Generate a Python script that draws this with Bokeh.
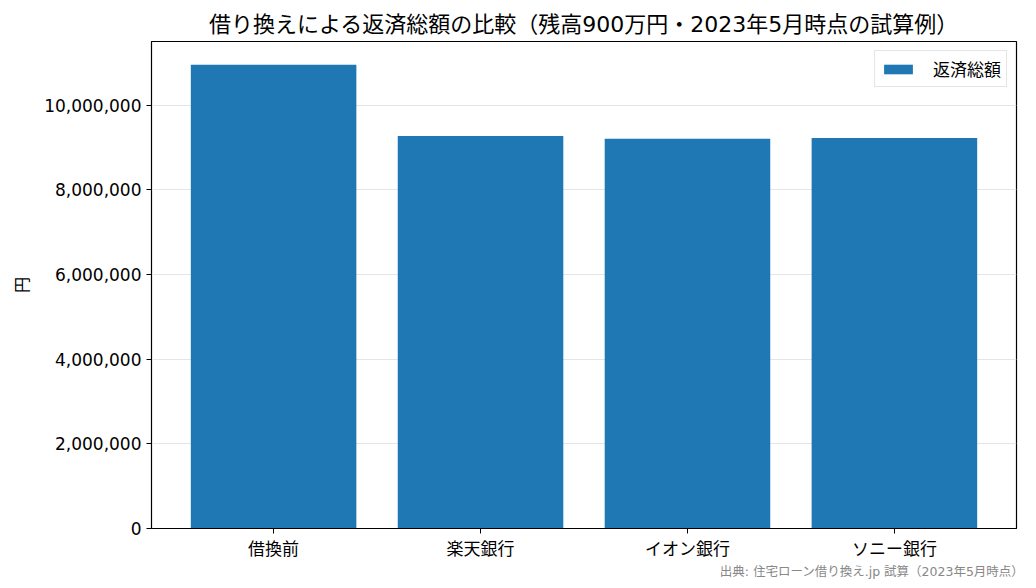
from bokeh.plotting import figure
from bokeh.models import ColumnDataSource, Range1d, FixedTicker, NumeralTickFormatter, Title, Legend, LegendItem
from bokeh.embed import file_html
from bokeh.resources import INLINE

categories = ["借換前", "楽天銀行", "イオン銀行", "ソニー銀行"]
totals = [10960000, 9275000, 9210000, 9230000]
y_ticks = [0, 2000000, 4000000, 6000000, 8000000, 10000000]

FONT = "DejaVu Sans, 'Noto Sans CJK JP'"
x = list(range(len(categories)))
src = ColumnDataSource(dict(x=x, top=totals, cat=categories))

p = figure(width=1036, height=588, output_backend="svg", toolbar_location=None,
           x_range=Range1d(-0.59, len(categories) - 1 + 0.59),
           y_range=Range1d(0, max(totals) * 1.05),
           min_border_left=151, min_border_right=20, min_border_top=41, min_border_bottom=60)

r = p.vbar(x="x", top="top", width=0.8, source=src, fill_color="#1f77b4", line_color=None)

p.title.text = "借り換えによる返済総額の比較（残高900万円・2023年5月時点の試算例）"
p.title.align = "center"
p.title.text_font = FONT
p.title.text_font_size = "22px"
p.title.text_font_style = "normal"
p.title.text_color = "black"

p.xaxis.ticker = FixedTicker(ticks=x)
p.xaxis.major_label_overrides = {i: c for i, c in enumerate(categories)}
p.yaxis.ticker = FixedTicker(ticks=y_ticks)
p.yaxis.formatter = NumeralTickFormatter(format="0,0")
p.yaxis.axis_label = "円"

for ax in (p.xaxis, p.yaxis):
    ax.major_label_text_font = FONT
    ax.major_label_text_font_size = "17px"
    ax.major_label_text_color = "black"
    ax.axis_line_color = "black"
    ax.major_tick_line_color = "black"
    ax.major_tick_out = 5
    ax.major_tick_in = 0
    ax.minor_tick_line_color = None
    ax.axis_label_text_font = FONT
    ax.axis_label_text_font_size = "16px"
    ax.axis_label_text_font_style = "normal"
    ax.axis_label_text_color = "black"
p.yaxis.axis_label_standoff = 9

p.xgrid.grid_line_color = None
p.ygrid.grid_line_color = "#e5e5e5"
p.ygrid.grid_line_width = 1
p.outline_line_color = "black"
p.outline_line_width = 1.2

legend = Legend(items=[LegendItem(label="返済総額", renderers=[r])], location="top_right")
legend.label_text_font = FONT
legend.label_text_font_size = "17px"
legend.label_text_color = "black"
legend.glyph_width = 36
legend.glyph_height = 12
legend.label_height = 18
legend.border_line_color = "#cccccc"
legend.margin = 9
legend.padding = 5
legend.spacing = 0
legend.label_standoff = 17
p.add_layout(legend)

foot = Title(text="出典: 住宅ローン借り換え.jp 試算（2023年5月時点）", align="right",
             text_font=FONT, text_font_size="12.5px", text_color="#888888", text_font_style="normal",
             offset=-8, standoff=0)
p.add_layout(foot, "below")

open("out.html", "w").write(file_html(p, INLINE))
